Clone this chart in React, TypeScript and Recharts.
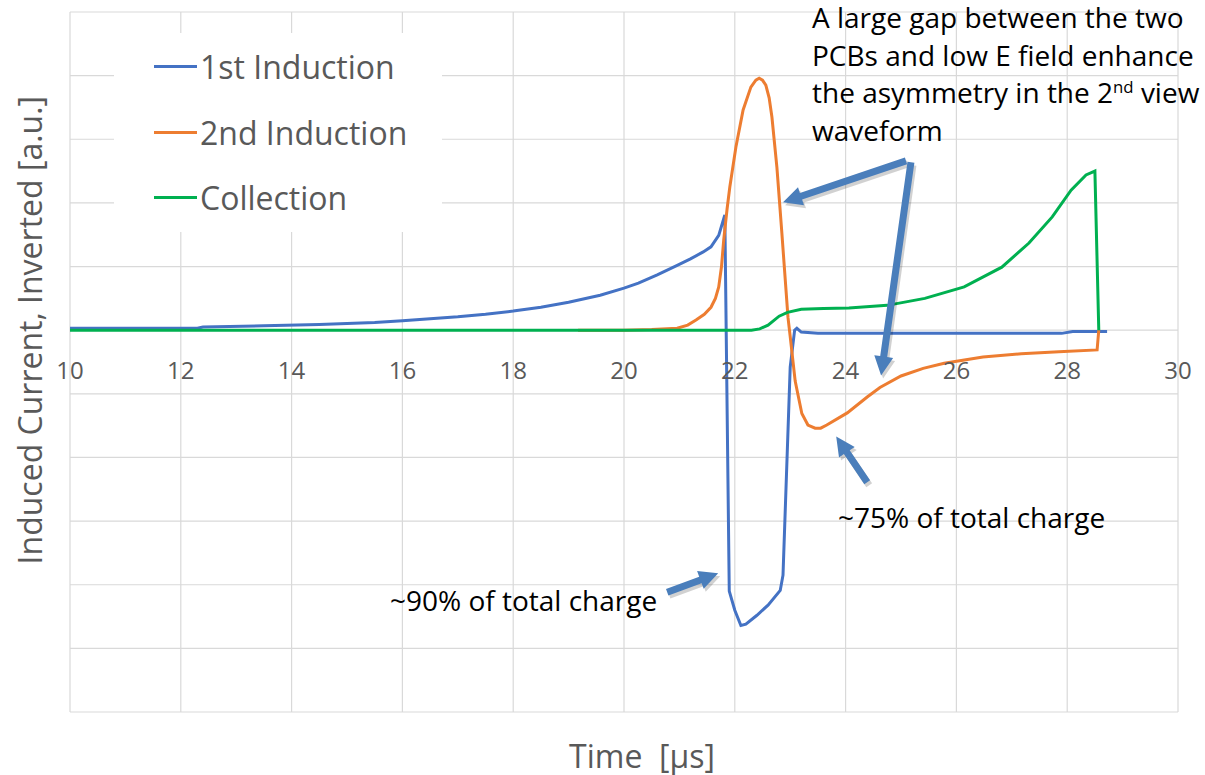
import React from 'react';
import { LineChart, Line, XAxis, YAxis, CartesianGrid, Legend, ReferenceLine } from 'recharts';

// ---------- data ----------
const xTicks = [10, 12, 14, 16, 18, 20, 22, 24, 26, 28, 30];
const yTicks = [-6, -5, -4, -3, -2, -1, 0, 1, 2, 3, 4, 5];

const firstTime = [10, 12.3, 12.4, 13.5, 14.5, 15.5, 16, 16.5, 17, 17.5, 18, 18.5, 19, 19.57, 20, 20.26, 20.6, 20.96, 21.2, 21.43, 21.57, 21.71, 21.82, 21.9, 22.0, 22.11, 22.2, 22.4, 22.6, 22.82, 22.87, 23.0, 23.08, 23.12, 23.2, 23.5, 25, 27.9, 28.1, 28.72];
const firstValue = [0.03, 0.03, 0.05, 0.07, 0.09, 0.12, 0.15, 0.18, 0.21, 0.25, 0.3, 0.36, 0.44, 0.55, 0.66, 0.74, 0.87, 1.02, 1.12, 1.23, 1.31, 1.49, 1.81, -4.1, -4.4, -4.64, -4.62, -4.48, -4.32, -4.09, -3.85, -0.58, 0.0, 0.03, -0.03, -0.05, -0.05, -0.05, -0.02, -0.02];

const secondTime = [19.17, 20.0, 20.5, 20.96, 21.15, 21.3, 21.45, 21.57, 21.65, 21.71, 21.76, 21.8, 21.86, 21.91, 22.02, 22.15, 22.29, 22.38, 22.44, 22.5, 22.56, 22.62, 22.67, 22.76, 22.85, 22.96, 23.0, 23.09, 23.21, 23.32, 23.45, 23.55, 23.66, 24.03, 24.39, 24.62, 25.0, 25.4, 25.78, 26.2, 26.48, 27.17, 27.85, 28.54, 28.57];
const secondValue = [0, 0, 0.01, 0.03, 0.08, 0.16, 0.25, 0.36, 0.5, 0.68, 1.0, 1.42, 1.9, 2.25, 2.88, 3.46, 3.82, 3.93, 3.96, 3.93, 3.85, 3.65, 3.35, 2.56, 1.52, 0.2, -0.1, -0.8, -1.31, -1.49, -1.54, -1.54, -1.49, -1.3, -1.05, -0.9, -0.72, -0.6, -0.52, -0.46, -0.42, -0.37, -0.34, -0.31, 0.0];

const collectionTime = [10, 22.3, 22.45, 22.6, 22.8, 22.95, 23.2, 23.6, 24.06, 24.75, 25.43, 26.14, 26.82, 27.31, 27.73, 28.07, 28.34, 28.5, 28.57];
const collectionValue = [0, 0, 0.02, 0.08, 0.22, 0.28, 0.33, 0.34, 0.35, 0.39, 0.5, 0.68, 0.99, 1.37, 1.78, 2.2, 2.44, 2.5, 0];

const seriesNames = ['1st Induction', '2nd Induction', 'Collection'];
const seriesColors = ['#4472c4', '#ed7d31', '#00b050'];

// annotation arrows in data coordinates
const arrowTails = [[25.09, 2.66], [25.18, 2.64], [24.39, -2.39], [20.78, -4.12]];
const arrowTips = [[22.87, 2.01], [24.64, -0.71], [23.83, -1.67], [21.7, -3.82]];

// ---------- layout ----------
const W = 1205;
const H = 775;
const PLOT_TOP = 12;
const PLOT_BOTTOM = 712;
const Y_MIN = -6;
const Y_MAX = 5;
const ZERO_Y = PLOT_TOP + ((PLOT_BOTTOM - PLOT_TOP) * (Y_MAX - 0)) / (Y_MAX - Y_MIN);
const FONT = '"Open Sans", "Noto Sans", sans-serif';
const GREY = '#595959';

const toData = (ts: number[], vs: number[]) => ts.map((t, i) => ({ t, v: vs[i] }));
const firstData = toData(firstTime, firstValue);
const secondData = toData(secondTime, secondValue);
const collectionData = toData(collectionTime, collectionValue);

const XTick = (p: any) => (
  <text
    x={p.x}
    y={ZERO_Y + 39}
    textAnchor="middle"
    dominantBaseline="central"
    fill={GREY}
    fontSize={24}
    fontFamily={FONT}
  >
    {p.payload.value}
  </text>
);

const EmptyTick = () => <g />;

const YTitle = (p: any) => {
  const vb = p.viewBox || { x: 0, y: 0, width: 70 };
  const cx = vb.x + 30;
  const cy = ZERO_Y;
  return (
    <text
      x={cx}
      y={cy}
      transform={`rotate(-90, ${cx}, ${cy})`}
      textAnchor="middle"
      dominantBaseline="central"
      fill={GREY}
      fontSize={32}
      fontFamily={FONT}
    >
      Induced Current, Inverted [a.u.]
    </text>
  );
};

const XTitle = (p: any) => {
  const vb = p.viewBox || { x: 70, y: 712, width: 1108, height: 63 };
  const cx = vb.x + vb.width / 2 + 18;
  const cy = vb.y + 43;
  return (
    <text x={cx} y={cy} textAnchor="middle" dominantBaseline="central" fill={GREY} fontSize={32} fontFamily={FONT}>
      {'Time \u00a0[µs]'}
    </text>
  );
};

const ArrowShape = (p: any) => {
  const { x1, y1, x2, y2 } = p;
  if ([x1, y1, x2, y2].some((v) => typeof v !== 'number' || isNaN(v))) return <g />;
  const dx = x2 - x1;
  const dy = y2 - y1;
  const len = Math.hypot(dx, dy) || 1;
  const ux = dx / len;
  const uy = dy / len;
  const nx = -uy;
  const ny = ux;
  const shaft = 3.5;
  const head = 9.5;
  const headLen = 19;
  const bx = x2 - ux * headLen;
  const by = y2 - uy * headLen;
  const pts = [
    [x1 + nx * shaft, y1 + ny * shaft],
    [bx + nx * shaft, by + ny * shaft],
    [bx + nx * head, by + ny * head],
    [x2, y2],
    [bx - nx * head, by - ny * head],
    [bx - nx * shaft, by - ny * shaft],
    [x1 - nx * shaft, y1 - ny * shaft],
  ]
    .map((q) => `${q[0].toFixed(1)},${q[1].toFixed(1)}`)
    .join(' ');
  return (
    <g>
      <polygon points={pts} transform="translate(2,3)" fill="rgba(0,0,0,0.18)" />
      <polygon points={pts} fill="#4a7ebb" />
    </g>
  );
};

const renderLegend = (props: any) => {
  const payload = props.payload || [];
  return (
    <div style={{ width: 328, height: 199, background: '#fff', boxSizing: 'border-box', paddingTop: 1 }}>
      {payload.map((e: any, i: number) => (
        <div key={i} style={{ display: 'flex', alignItems: 'center', height: 65.5 }}>
          <span style={{ display: 'inline-block', width: 43, height: 3, background: e.color, marginLeft: 40 }} />
          <span style={{ marginLeft: 3, fontSize: 32, color: GREY, fontFamily: FONT, whiteSpace: 'nowrap' }}>{e.value}</span>
        </div>
      ))}
    </div>
  );
};

const noteStyle: React.CSSProperties = {
  position: 'absolute',
  fontFamily: FONT,
  fontSize: 28,
  color: '#000',
  whiteSpace: 'nowrap',
  lineHeight: '37.5px',
};

export default function App() {
  return (
    <div style={{ position: 'relative', width: W, height: H, background: '#fff' }}>
      <style>{'body{margin:0;background:#fff;}'}</style>
      <LineChart width={W} height={H} margin={{ top: PLOT_TOP, right: 27, bottom: 0, left: 0 }}>
        <CartesianGrid stroke="#d9d9d9" strokeWidth={1.2} />
        <XAxis
          dataKey="t"
          type="number"
          domain={[10, 30]}
          ticks={xTicks}
          allowDuplicatedCategory={false}
          axisLine={false}
          tickLine={false}
          height={63}
          tick={<XTick />}
          label={<XTitle />}
        />
        <YAxis
          type="number"
          domain={[Y_MIN, Y_MAX]}
          ticks={yTicks}
          tick={<EmptyTick />}
          axisLine={false}
          tickLine={false}
          width={70}
          label={<YTitle />}
        />
        <Legend
          layout="vertical"
          align="center"
          verticalAlign="middle"
          wrapperStyle={{ left: 114, top: 33, width: 328, height: 199 }}
          content={renderLegend}
        />
        <Line data={firstData} dataKey="v" name={seriesNames[0]} stroke={seriesColors[0]} strokeWidth={3} dot={false} type="linear" isAnimationActive={false} />
        <Line data={secondData} dataKey="v" name={seriesNames[1]} stroke={seriesColors[1]} strokeWidth={3} dot={false} type="linear" isAnimationActive={false} />
        <Line data={collectionData} dataKey="v" name={seriesNames[2]} stroke={seriesColors[2]} strokeWidth={3} dot={false} type="linear" isAnimationActive={false} />
        {arrowTails.map((tail, i) => (
          <ReferenceLine
            key={i}
            segment={[
              { x: tail[0], y: tail[1] },
              { x: arrowTips[i][0], y: arrowTips[i][1] },
            ]}
            shape={ArrowShape}
            ifOverflow="visible"
          />
        ))}
      </LineChart>
      <div style={{ ...noteStyle, left: 812, top: -1 }}>
        A large gap between the two
        <br />
        PCBs and low E field enhance
        <br />
        the asymmetry in the 2<sup style={{ fontSize: '0.6em', lineHeight: 0 }}>nd</sup> view
        <br />
        waveform
      </div>
      <div style={{ ...noteStyle, left: 838, top: 499 }}>~75% of total charge</div>
      <div style={{ ...noteStyle, left: 390, top: 582 }}>~90% of total charge</div>
    </div>
  );
}
